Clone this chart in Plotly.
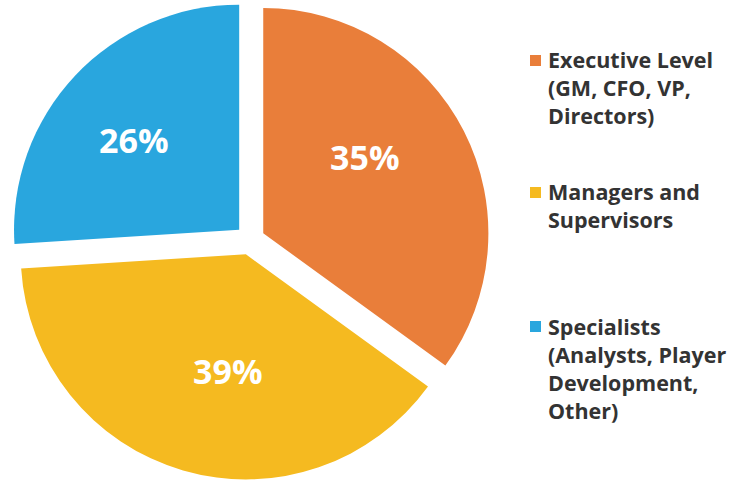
import plotly.graph_objects as go

categories = ["Executive Level (GM, CFO, VP, Directors)",
              "Managers and Supervisors",
              "Specialists (Analysts, Player Development, Other)"]
legend_lines = [["Executive Level", "(GM, CFO, VP,", "Directors)"],
                ["Managers and", "Supervisors"],
                ["Specialists", "(Analysts, Player", "Development,", "Other)"]]
values = [35, 39, 26]
colors = ["#E97E3A", "#F5BA20", "#29A6DE"]

W, H = 746, 480
fig = go.Figure(go.Pie(
    labels=categories, values=values, sort=False, direction="clockwise",
    rotation=0, pull=[0.066] * 3,
    marker=dict(colors=colors, line=dict(width=0)),
    textinfo="none",
    domain=dict(x=[9 / W, 491 / W], y=[0, 1]),
    showlegend=False, hoverinfo="label+percent",
))

# percentage labels (text from data, placed like the original's manual labels)
label_pos = [(365, 157), (228, 371), (134, 140)]
total = sum(values)
for v, (px, py) in zip(values, label_pos):
    fig.add_annotation(xref="paper", yref="paper", x=px / W, y=1 - py / H,
                       xanchor="center", yanchor="middle", showarrow=False,
                       text=f"{round(v / total * 100)}%",
                       font=dict(family="Open Sans", size=34, color="white", weight="bold"))

square_tops = [55, 187, 321]
text_tops = [43, 175, 310]
for lines, col, sq, tt in zip(legend_lines, colors, square_tops, text_tops):
    fig.add_shape(type="rect", xref="paper", yref="paper",
                  x0=530 / W, x1=541 / W, y0=1 - sq / H, y1=1 - (sq + 11) / H,
                  fillcolor=col, line=dict(width=0))
    fig.add_annotation(xref="paper", yref="paper", x=546 / W, y=1 - tt / H,
                       xanchor="left", yanchor="top", align="left", showarrow=False,
                       text="<br>".join(lines),
                       font=dict(family="Open Sans", size=21.5, color="#333333", weight="bold"))

fig.update_layout(width=W, height=H, margin=dict(l=0, r=0, t=0, b=0),
                  paper_bgcolor="white", plot_bgcolor="white")
fig.write_html("out.html")
